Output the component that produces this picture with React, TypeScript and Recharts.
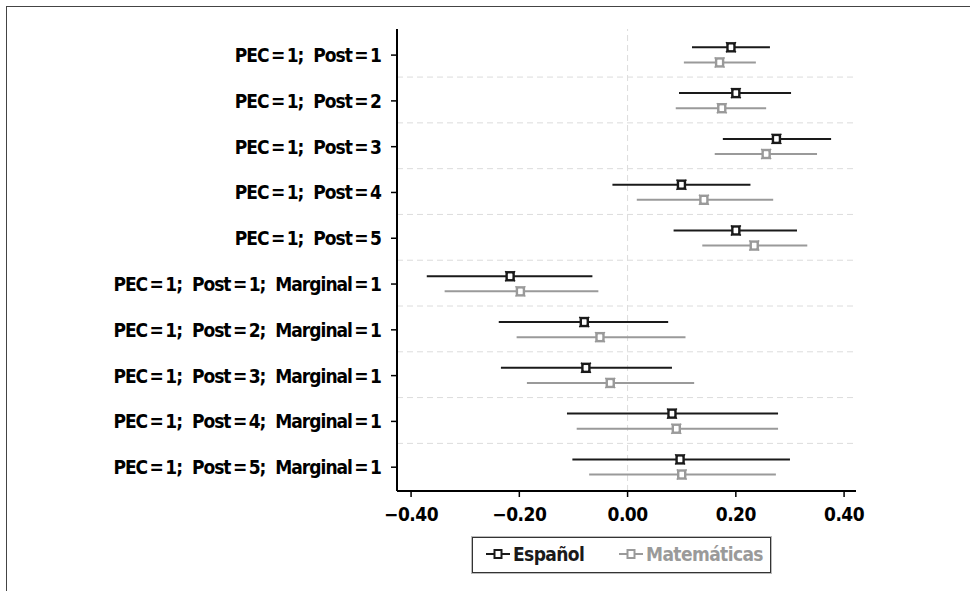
import React from "react";
import { ScatterChart, Scatter, XAxis, YAxis, ErrorBar, ReferenceLine } from "recharts";

const rowLabels = [
  "PEC\u2009=\u20091;  Post\u2009=\u20091",
  "PEC\u2009=\u20091;  Post\u2009=\u20092",
  "PEC\u2009=\u20091;  Post\u2009=\u20093",
  "PEC\u2009=\u20091;  Post\u2009=\u20094",
  "PEC\u2009=\u20091;  Post\u2009=\u20095",
  "PEC\u2009=\u20091;  Post\u2009=\u20091;  Marginal\u2009=\u20091",
  "PEC\u2009=\u20091;  Post\u2009=\u20092;  Marginal\u2009=\u20091",
  "PEC\u2009=\u20091;  Post\u2009=\u20093;  Marginal\u2009=\u20091",
  "PEC\u2009=\u20091;  Post\u2009=\u20094;  Marginal\u2009=\u20091",
  "PEC\u2009=\u20091;  Post\u2009=\u20095;  Marginal\u2009=\u20091",
];

const espPoint = [0.191, 0.2, 0.275, 0.0995, 0.2, -0.217, -0.08, -0.077, 0.082, 0.097];
const espLow = [0.119, 0.095, 0.176, -0.028, 0.085, -0.371, -0.238, -0.234, -0.112, -0.102];
const espHigh = [0.263, 0.302, 0.376, 0.227, 0.313, -0.065, 0.075, 0.082, 0.278, 0.3];

const matPoint = [0.17, 0.174, 0.256, 0.141, 0.234, -0.198, -0.051, -0.032, 0.09, 0.1];
const matLow = [0.104, 0.089, 0.161, 0.017, 0.138, -0.338, -0.205, -0.186, -0.094, -0.071];
const matHigh = [0.237, 0.256, 0.35, 0.269, 0.332, -0.054, 0.107, 0.123, 0.278, 0.274];

const xTicks = [-0.4, -0.2, 0, 0.2, 0.4];
const seriesNames = ["Español", "Matemáticas"];

const ESP_COLOR = "#1a1a1a";
const MAT_COLOR = "#9a9a9a";
const FONT = "'Liberation Sans Narrow', 'DejaVu Sans Condensed', 'Roboto Condensed', sans-serif";

const rows = rowLabels.map((_, i) => i + 1);
const espData = rows.map((r, i) => ({
  y: r - 0.17,
  x: espPoint[i],
  err: [espPoint[i] - espLow[i], espHigh[i] - espPoint[i]],
}));
const matData = rows.map((r, i) => ({
  y: r + 0.16,
  x: matPoint[i],
  err: [matPoint[i] - matLow[i], matHigh[i] - matPoint[i]],
}));
const gridRows = rows.slice(0, 9).map((r) => r + 0.48);

const Marker = (color: string) => (props: any) => {
  const { cx, cy } = props;
  if (cx == null || cy == null) return null;
  return (
    <g>
      <rect x={cx - 3.5} y={cy - 4} width={7} height={8} fill="#ffffff" stroke={color} strokeWidth={2.4} />
      <line x1={cx - 5} y1={cy - 5} x2={cx - 2.5} y2={cy - 2.5} stroke={color} strokeWidth={1.3} />
      <line x1={cx + 5} y1={cy - 5} x2={cx + 2.5} y2={cy - 2.5} stroke={color} strokeWidth={1.3} />
      <line x1={cx - 5} y1={cy + 5} x2={cx - 2.5} y2={cy + 2.5} stroke={color} strokeWidth={1.3} />
      <line x1={cx + 5} y1={cy + 5} x2={cx + 2.5} y2={cy + 2.5} stroke={color} strokeWidth={1.3} />
    </g>
  );
};

const fmtX = (v: number) => {
  const s = Math.abs(v).toFixed(2);
  return v < -1e-9 ? "\u2212" + s : s;
};

const XTick = (props: any) => {
  const { x, y, payload } = props;
  return (
    <text x={x} y={y + 22} textAnchor="middle" fontFamily={FONT} fontWeight="bold" fontSize={19} letterSpacing={-0.5} fill="#000">
      {fmtX(payload.value)}
    </text>
  );
};

const YTick = (props: any) => {
  const { x, y, payload } = props;
  const label = rowLabels[Math.round(payload.value) - 1] ?? "";
  return (
    <text
      x={x - 8}
      y={y + 7}
      textAnchor="end"
      fontFamily={FONT}
      fontWeight="bold"
      fontSize={19}
      letterSpacing={-1}
      fill="#000"
      style={{ whiteSpace: "pre" }}
    >
      {label}
    </text>
  );
};

const LegendSample = ({ color }: { color: string }) => (
  <svg width={24} height={12} style={{ verticalAlign: "middle" }}>
    <line x1={0} y1={6} x2={24} y2={6} stroke={color} strokeWidth={2} />
    <rect x={8.5} y={2} width={7} height={8} fill="#fff" stroke={color} strokeWidth={2} />
  </svg>
);

export default function App() {
  return (
    <div style={{ position: "absolute", left: 0, top: 0, width: 970, height: 591, overflow: "hidden", background: "#fff" }}>
      <div
        style={{
          position: "absolute",
          left: 6,
          top: 6,
          width: 1200,
          height: 1200,
          borderLeft: "1.5px solid #444",
          borderTop: "1.5px solid #444",
        }}
      />
      <div style={{ position: "absolute", left: 0, top: 0 }}>
        <ScatterChart width={970} height={591} margin={{ top: 29, right: 114, bottom: 60, left: 0 }}>
          {gridRows.map((g) => (
            <ReferenceLine key={g} y={g} stroke="#dcdcdc" strokeDasharray="6 4" strokeWidth={1} />
          ))}
          <ReferenceLine x={0} stroke="#dcdcdc" strokeDasharray="6 4" strokeWidth={1} />
          <XAxis
            type="number"
            dataKey="x"
            domain={[-0.426, 0.422]}
            ticks={xTicks}
            allowDataOverflow
            height={40}
            tick={<XTick />}
            tickSize={6}
            axisLine={{ stroke: "#000", strokeWidth: 2 }}
            tickLine={{ stroke: "#000", strokeWidth: 1.5 }}
          />
          <YAxis
            type="number"
            dataKey="y"
            domain={[0.43, 10.52]}
            reversed
            allowDataOverflow
            ticks={rows}
            interval={0}
            width={397}
            tick={<YTick />}
            tickSize={6}
            axisLine={{ stroke: "#000", strokeWidth: 2 }}
            tickLine={{ stroke: "#000", strokeWidth: 1.5 }}
          />
          <Scatter name={seriesNames[0]} data={espData} fill={ESP_COLOR} shape={Marker(ESP_COLOR)} isAnimationActive={false}>
            <ErrorBar dataKey="err" direction="x" width={0} stroke={ESP_COLOR} strokeWidth={2} isAnimationActive={false} />
          </Scatter>
          <Scatter name={seriesNames[1]} data={matData} fill={MAT_COLOR} shape={Marker(MAT_COLOR)} isAnimationActive={false}>
            <ErrorBar dataKey="err" direction="x" width={0} stroke={MAT_COLOR} strokeWidth={2} isAnimationActive={false} />
          </Scatter>
        </ScatterChart>
      </div>
      <div
        style={{
          position: "absolute",
          left: 472,
          top: 537,
          width: 299,
          height: 36,
          border: "1.5px solid #333",
          boxShadow: "0 0 0 1px #bbb",
          fontFamily: FONT,
          fontWeight: "bold",
          fontSize: 19,
          letterSpacing: -0.6,
          boxSizing: "border-box",
        }}
      >
        <div style={{ position: "absolute", left: 13, top: 5, display: "flex", alignItems: "center", color: ESP_COLOR }}>
          <LegendSample color={ESP_COLOR} />
          <span style={{ marginLeft: 3 }}>{seriesNames[0]}</span>
        </div>
        <div style={{ position: "absolute", left: 146, top: 5, display: "flex", alignItems: "center", color: MAT_COLOR }}>
          <LegendSample color={MAT_COLOR} />
          <span style={{ marginLeft: 3 }}>{seriesNames[1]}</span>
        </div>
      </div>
    </div>
  );
}
